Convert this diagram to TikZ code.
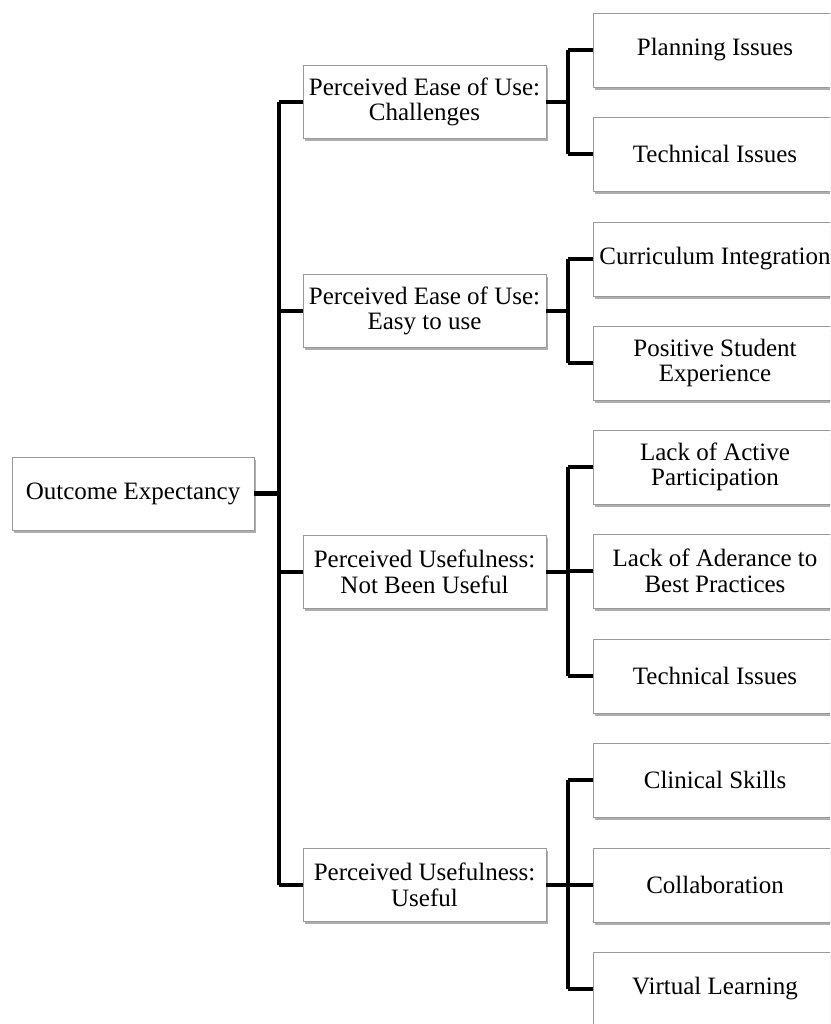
\documentclass[tikz,border=0pt]{standalone}
\usepackage{fontspec}
\setmainfont{Liberation Serif}
\usetikzlibrary{shadows}
\begin{document}
\begin{tikzpicture}[x=1pt,y=-1pt,
  tbox/.style={draw=black!40, line width=0.9pt, fill=white, inner sep=0pt,
    minimum width=243pt, minimum height=73pt, align=center,
    font=\fontsize{25}{25.5}\selectfont, text=black,
    drop shadow={opacity=0.45, fill=black!70, shadow xshift=1.5pt, shadow yshift=-2.8pt}},
  leaf/.style={tbox, minimum width=244pt, minimum height=74pt},
  conn/.style={line width=4.2pt, line join=miter, black}]
\clip (0,0) rectangle (830,1024);
\fill[white] (0,0) rectangle (830,1024);

% junction points
\coordinate (rj) at (279,493.5);
\coordinate (j1) at (568,102);
\coordinate (j2) at (568,311);
\coordinate (j3) at (568,572);
\coordinate (j4) at (568,885);

% nodes
\node[tbox, minimum width=242pt] (root) at (133,493.5) {Outcome Expectancy};

\node[tbox] (m1) at (424.5,102) {Perceived Ease of Use:\\Challenges};
\node[tbox] (m2) at (424.5,311) {Perceived Ease of Use:\\Easy to use};
\node[tbox] (m3) at (424.5,572) {Perceived Usefulness:\\Not Been Useful};
\node[tbox] (m4) at (424.5,885) {Perceived Usefulness:\\Useful};

\node[leaf] (c11) at (715,50) {Planning Issues};
\node[leaf] (c12) at (715,154) {Technical Issues};
\node[leaf] (c21) at (715,259) {Curriculum Integration};
\node[leaf] (c22) at (715,363) {Positive Student\\Experience};
\node[leaf] (c31) at (715,467) {Lack of Active\\Participation};
\node[leaf] (c32) at (715,571) {Lack of Aderance to\\Best Practices};
\node[leaf] (c33) at (715,676) {Technical Issues};
\node[leaf] (c41) at (715,780) {Clinical Skills};
\node[leaf] (c42) at (715,885) {Collaboration};
\node[leaf] (c43) at (715,989) {Virtual Learning};

% root to middle level
\draw[conn] (root.east) -- (rj);
\draw[conn] (rj |- m1.west) -- (rj |- m4.west);
\foreach \m in {m1,m2,m3,m4} {
  \draw[conn] (rj |- \m.west) -- (\m.west);
}

% middle to leaves
\draw[conn] (m1.east) -- (j1);
\draw[conn] (j1 |- c11.west) -- (j1 |- c12.west);
\foreach \c in {c11,c12} \draw[conn] (j1 |- \c.west) -- (\c.west);

\draw[conn] (m2.east) -- (j2);
\draw[conn] (j2 |- c21.west) -- (j2 |- c22.west);
\foreach \c in {c21,c22} \draw[conn] (j2 |- \c.west) -- (\c.west);

\draw[conn] (m3.east) -- (j3);
\draw[conn] (j3 |- c31.west) -- (j3 |- c33.west);
\foreach \c in {c31,c32,c33} \draw[conn] (j3 |- \c.west) -- (\c.west);

\draw[conn] (m4.east) -- (j4);
\draw[conn] (j4 |- c41.west) -- (j4 |- c43.west);
\foreach \c in {c41,c42,c43} \draw[conn] (j4 |- \c.west) -- (\c.west);
\end{tikzpicture}
\end{document}
